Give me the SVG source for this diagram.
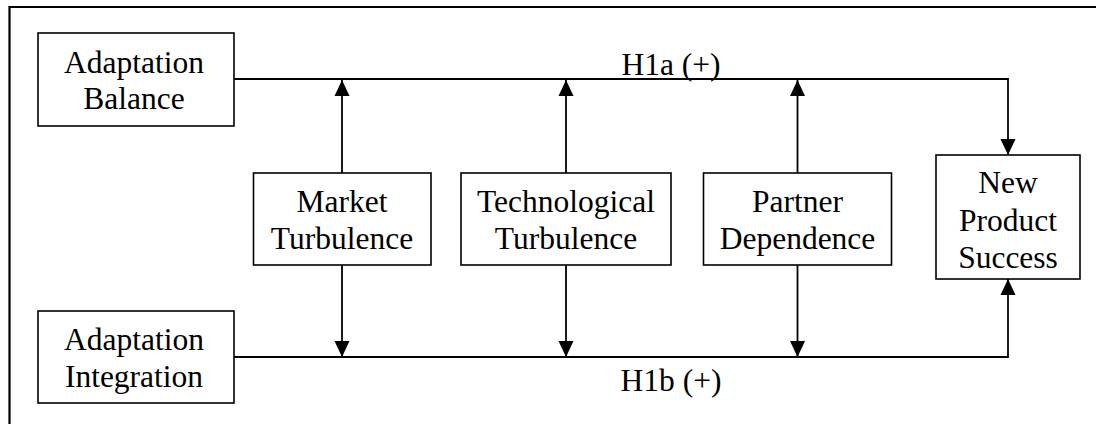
<svg xmlns="http://www.w3.org/2000/svg" width="1096" height="424" viewBox="0 0 1096 424">
<style>
.box{fill:#fff;stroke:#000;stroke-width:1.6}
.t{font-family:"Liberation Serif","Times New Roman",serif;font-size:31.5px;fill:#000;text-anchor:middle}
.c{fill:none;stroke:#000;stroke-width:1.8}
</style>
<defs>
<marker id="ah" markerUnits="userSpaceOnUse" markerWidth="17" markerHeight="17" viewBox="0 0 17 17" refX="16" refY="8.5" orient="auto">
<path d="M0,1 L16,8.5 L0,16 Z" fill="#000"/>
</marker>
</defs>
<rect x="0" y="0" width="1096" height="424" fill="#fff"/>
<path d="M9.5,424 V7 H1096" fill="none" stroke="#000" stroke-width="2.2"/>
<g id="connectors">
<path class="c" d="M234,79 H1008 V155" marker-end="url(#ah)"/>
<path class="c" d="M234,357 H1008 V279" marker-end="url(#ah)"/>
<path class="c" d="M342,173 V80" marker-end="url(#ah)"/>
<path class="c" d="M342,265 V357" marker-end="url(#ah)"/>
<path class="c" d="M566,173 V80" marker-end="url(#ah)"/>
<path class="c" d="M566,265 V357" marker-end="url(#ah)"/>
<path class="c" d="M797.5,173 V80" marker-end="url(#ah)"/>
<path class="c" d="M797.5,265 V357" marker-end="url(#ah)"/>
<text class="t" x="671" y="75">H1a (+)</text>
<text class="t" x="671" y="391">H1b (+)</text>
</g>
<g id="adaptation-balance">
<rect class="box" x="38" y="33" width="196" height="93"/>
<text class="t" x="134" y="73">Adaptation</text>
<text class="t" x="134" y="109">Balance</text>
</g>
<g id="adaptation-integration">
<rect class="box" x="38" y="311" width="196" height="92"/>
<text class="t" x="134" y="350">Adaptation</text>
<text class="t" x="134" y="386.5">Integration</text>
</g>
<g id="market-turbulence">
<rect class="box" x="253.5" y="173" width="177.5" height="92"/>
<text class="t" x="342" y="212">Market</text>
<text class="t" x="342" y="249">Turbulence</text>
</g>
<g id="technological-turbulence">
<rect class="box" x="461" y="173" width="210" height="92"/>
<text class="t" x="566" y="212">Technological</text>
<text class="t" x="566" y="249">Turbulence</text>
</g>
<g id="partner-dependence">
<rect class="box" x="703.5" y="173" width="188" height="92"/>
<text class="t" x="797.5" y="212">Partner</text>
<text class="t" x="797.5" y="249">Dependence</text>
</g>
<g id="new-product-success">
<rect class="box" x="936" y="155" width="144" height="124"/>
<text class="t" x="1008" y="193">New</text>
<text class="t" x="1008" y="230.5">Product</text>
<text class="t" x="1008" y="268">Success</text>
</g>
</svg>
